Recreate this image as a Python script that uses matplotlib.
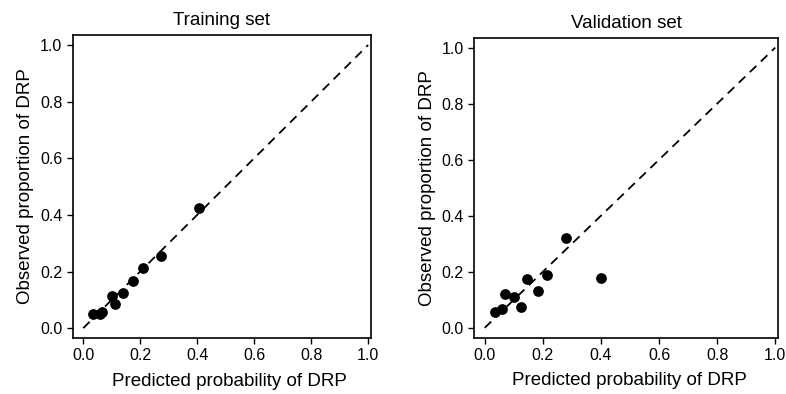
import matplotlib.pyplot as plt
import numpy as np

plt.rcParams['font.family'] = ['Liberation Sans', 'DejaVu Sans']

# calibration points
train_pred = [0.035, 0.058, 0.067, 0.102, 0.112, 0.140, 0.173, 0.211, 0.272, 0.405]
train_obs = [0.050, 0.050, 0.058, 0.113, 0.087, 0.125, 0.166, 0.213, 0.256, 0.424]

valid_pred = [0.036, 0.060, 0.069, 0.102, 0.124, 0.145, 0.182, 0.215, 0.279, 0.401]
valid_obs = [0.055, 0.067, 0.120, 0.109, 0.076, 0.175, 0.131, 0.189, 0.322, 0.178]

titles = ['Training set', 'Validation set']
ticks = [0.0, 0.2, 0.4, 0.6, 0.8, 1.0]

fig = plt.figure(figsize=(7.86, 3.94), dpi=100)
ax1 = fig.add_axes([0.0925, 0.142, 0.3795, 0.769])
ax2 = fig.add_axes([0.603, 0.143, 0.387, 0.761])

for ax, xs, ys, title, lx in [(ax1, train_pred, train_obs, titles[0], 0.527),
                              (ax2, valid_pred, valid_obs, titles[1], 0.51)]:
    ax.plot([0, 1], [0, 1], color='black', linestyle=(0, (5, 3.5)), linewidth=1.3)
    ax.scatter(xs, ys, s=45, color='black', zorder=3)
    ax.set_xlim(-0.037, 1.01)
    ax.set_ylim(-0.035, 1.035)
    ax.set_xticks(ticks)
    ax.set_yticks(ticks)
    ax.set_xticklabels(['%.1f' % t for t in ticks])
    ax.set_yticklabels(['%.1f' % t for t in ticks])
    ax.tick_params(labelsize=11.5, length=4, width=1, direction='out')
    ax.set_xlabel('Predicted probability of DRP', fontsize=13.5)
    ax.xaxis.set_label_coords(lx, -0.115)
    ax.set_ylabel('Observed proportion of DRP', fontsize=13.5, labelpad=4)
    ax.set_title(title, fontsize=13.5, pad=7)
    for sp in ax.spines.values():
        sp.set_linewidth(1.2)

fig.savefig('out.png', dpi=100)
